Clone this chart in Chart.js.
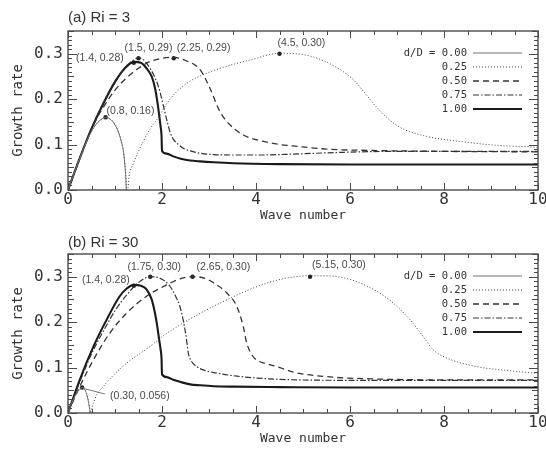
<!DOCTYPE html>
<html><head><meta charset="utf-8">
<script src="https://cdn.jsdelivr.net/npm/chart.js@4.4.0/dist/chart.umd.min.js"></script>
<style>
html,body{margin:0;padding:0;background:#fff;}
#wrap{width:546px;height:453px;position:relative;overflow:hidden;}
.box{position:absolute;left:0;width:546px;}
canvas{display:block;}
</style></head><body>
<div id="wrap">
<div class="box" style="top:0;height:226px"><canvas id="cA" width="546" height="226"></canvas></div>
<div class="box" style="top:226px;height:227px"><canvas id="cB" width="546" height="227"></canvas></div>
</div>
<script>
// ---------- data: panel (a) Ri = 3 ----------
const legendLabels = ['d/D = 0.00', '0.25', '0.50', '0.75', '1.00'];
const xTickStep = 2;
const yTickStep = 0.1;

const a_k000 = [0, 0.2, 0.4, 0.55, 0.7, 0.8, 0.9, 1.0, 1.07, 1.13, 1.18, 1.21, 1.23, 1.24];
const a_g000 = [0, 0.056, 0.108, 0.138, 0.155, 0.16, 0.156, 0.143, 0.128, 0.108, 0.085, 0.055, 0.025, 0];

const a_k025 = [0, 0.2, 0.4, 0.6, 0.8, 0.95, 1.05, 1.13, 1.19, 1.23, 1.25, 1.27, 1.3, 1.39, 1.5, 1.6, 1.75, 1.89, 2.17, 2.53, 2.95, 3.5, 3.87, 4.5, 5.0, 5.36, 5.79, 6.07, 6.28, 6.5, 6.78, 7.06, 7.63, 8.34, 9.05, 10];
const a_g025 = [0, 0.055, 0.107, 0.145, 0.157, 0.152, 0.135, 0.11, 0.075, 0.035, 0, 0, 0.03, 0.058, 0.085, 0.107, 0.135, 0.155, 0.2, 0.235, 0.257, 0.276, 0.286, 0.301, 0.298, 0.288, 0.265, 0.243, 0.218, 0.19, 0.16, 0.138, 0.118, 0.107, 0.099, 0.094];

const a_k050 = [0, 0.2, 0.4, 0.6, 0.8, 1.0, 1.25, 1.5, 1.75, 2.0, 2.25, 2.5, 2.81, 3.02, 3.23, 3.45, 3.73, 4.16, 4.51, 4.79, 5.5, 6.5, 8, 10];
const a_g050 = [0, 0.055, 0.11, 0.155, 0.19, 0.22, 0.247, 0.268, 0.283, 0.29, 0.292, 0.285, 0.265, 0.224, 0.173, 0.143, 0.121, 0.107, 0.1, 0.097, 0.09, 0.087, 0.085, 0.084];

const a_k075 = [0, 0.25, 0.5, 0.75, 1.0, 1.2, 1.4, 1.5, 1.6, 1.7, 1.82, 1.9, 1.96, 2.03, 2.1, 2.17, 2.24, 2.35, 2.45, 2.6, 2.81, 3.1, 3.52, 4.09, 4.79, 5.86, 7, 8.5, 10];
const a_g075 = [0, 0.07, 0.136, 0.192, 0.24, 0.268, 0.287, 0.291, 0.287, 0.275, 0.254, 0.235, 0.215, 0.185, 0.155, 0.128, 0.112, 0.1, 0.092, 0.086, 0.081, 0.078, 0.077, 0.077, 0.079, 0.083, 0.085, 0.085, 0.085];

const a_k100 = [0, 0.25, 0.5, 0.75, 1.0, 1.2, 1.4, 1.55, 1.67, 1.78, 1.85, 1.9, 1.94, 1.97, 1.99, 2.0, 2.1, 2.24, 2.4, 2.6, 2.81, 3.1, 3.52, 4.51, 6, 8, 10];
const a_g100 = [0, 0.07, 0.135, 0.19, 0.238, 0.267, 0.282, 0.28, 0.268, 0.25, 0.225, 0.195, 0.165, 0.14, 0.12, 0.086, 0.08, 0.074, 0.069, 0.065, 0.063, 0.061, 0.059, 0.057, 0.056, 0.056, 0.056];

const a_peakK = [1.4, 1.5, 2.25, 4.5, 0.8];
const a_peakG = [0.28, 0.29, 0.29, 0.30, 0.16];
const a_peakText = ['(1.4, 0.28)', '(1.5, 0.29)', '(2.25, 0.29)', '(4.5, 0.30)', '(0.8, 0.16)'];

// ---------- data: panel (b) Ri = 30 ----------
const b_k000 = [0, 0.1, 0.2, 0.3, 0.36, 0.41, 0.45, 0.47];
const b_g000 = [0, 0.027, 0.047, 0.056, 0.051, 0.036, 0.015, 0];

const b_k025 = [0, 0.1, 0.2, 0.3, 0.37, 0.42, 0.46, 0.48, 0.5, 0.54, 0.61, 0.75, 0.89, 1.25, 1.74, 2.03, 2.53, 3.16, 3.94, 4.51, 5.15, 5.5, 6.0, 6.57, 6.92, 7.28, 7.56, 7.77, 8.06, 8.7, 9.4, 10];
const b_g025 = [0, 0.026, 0.046, 0.054, 0.05, 0.035, 0.012, 0, 0.008, 0.021, 0.04, 0.058, 0.075, 0.11, 0.146, 0.17, 0.203, 0.238, 0.275, 0.294, 0.302, 0.302, 0.294, 0.268, 0.242, 0.205, 0.168, 0.139, 0.121, 0.102, 0.093, 0.087];

const b_k050 = [0, 0.25, 0.54, 0.89, 1.25, 1.67, 2.1, 2.4, 2.65, 2.9, 3.15, 3.38, 3.59, 3.73, 3.8, 3.9, 4.01, 4.25, 4.51, 4.79, 5.5, 6.5, 8, 10];
const b_g050 = [0, 0.058, 0.117, 0.176, 0.22, 0.257, 0.282, 0.296, 0.30, 0.297, 0.283, 0.264, 0.235, 0.19, 0.155, 0.13, 0.117, 0.108, 0.1, 0.09, 0.08, 0.075, 0.073, 0.073];

const b_k075 = [0, 0.25, 0.5, 0.75, 1.0, 1.25, 1.5, 1.75, 1.95, 2.17, 2.3, 2.38, 2.44, 2.49, 2.53, 2.56, 2.62, 2.74, 2.9, 3.16, 3.6, 4.51, 6, 8, 10];
const b_g075 = [0, 0.068, 0.13, 0.18, 0.225, 0.26, 0.287, 0.30, 0.297, 0.279, 0.255, 0.235, 0.21, 0.183, 0.155, 0.132, 0.115, 0.102, 0.094, 0.088, 0.081, 0.074, 0.072, 0.072, 0.072];

const b_k100 = [0, 0.25, 0.54, 0.82, 1.1, 1.25, 1.4, 1.55, 1.67, 1.78, 1.85, 1.9, 1.94, 1.97, 1.99, 2.0, 2.1, 2.24, 2.4, 2.6, 2.81, 3.1, 3.52, 4.51, 6, 8, 10];
const b_g100 = [0, 0.073, 0.146, 0.205, 0.257, 0.274, 0.282, 0.28, 0.272, 0.25, 0.22, 0.19, 0.161, 0.14, 0.12, 0.085, 0.079, 0.073, 0.068, 0.063, 0.061, 0.059, 0.058, 0.057, 0.056, 0.056, 0.056];

const b_peakK = [1.4, 1.75, 2.65, 5.15, 0.30];
const b_peakG = [0.28, 0.30, 0.30, 0.30, 0.056];
const b_peakText = ['(1.4, 0.28)', '(1.75, 0.30)', '(2.65, 0.30)', '(5.15, 0.30)', '(0.30, 0.056)'];

// ---------- styles (not data) ----------
const seriesStyles = [
  {color: '#707070', width: 1, dash: []},
  {color: '#444', width: 1, dash: [1, 2]},
  {color: '#333', width: 1.3, dash: [6, 4]},
  {color: '#333', width: 1.2, dash: [6, 2, 1.5, 2]},
  {color: '#1a1a1a', width: 2.1, dash: []}
];
// label placement relative to marker: [dx, dy, align, leader]
const a_labelPos = [[-10, -5, 'right'], [10, -10, 'center'], [3, -10, 'left'], [-2, -11, 'left'], [1, -6.5, 'left']];
const b_labelPos = [[-4, -6, 'right'], [4, -10, 'center'], [4, -10, 'left'], [2, -12, 'left'], [28, 8.5, 'left', true]];

const MONO = "'DejaVu Sans Mono', 'Liberation Mono', monospace";
const SANS = "'Liberation Sans', Arial, sans-serif";

const pts = (ks, gs) => ks.map((k, i) => ({x: k, y: gs[i]}));

const framePlugin = {
  id: 'frame',
  afterDatasetsDraw(chart) {
    const {ctx, chartArea: a, scales: {x, y}} = chart;
    ctx.save();
    ctx.strokeStyle = '#4a4a4a';
    ctx.lineWidth = 1;
    ctx.beginPath();
    for (let i = 0; i <= 20; i++) {
      const v = i * 0.5;
      const px = Math.round(x.getPixelForValue(v)) + 0.5;
      const len = (i % 4 === 0) ? 7 : 4;
      ctx.moveTo(px, a.bottom); ctx.lineTo(px, a.bottom - len);
      ctx.moveTo(px, a.top); ctx.lineTo(px, a.top + len);
    }
    for (let i = 0; i <= 35; i++) {
      const v = i * 0.01;
      const py = Math.round(y.getPixelForValue(v)) + 0.5;
      const len = (i % 10 === 0) ? 9 : (i % 5 === 0 ? 6 : 4);
      ctx.moveTo(a.left, py); ctx.lineTo(a.left + len, py);
      ctx.moveTo(a.right, py); ctx.lineTo(a.right - len, py);
    }
    ctx.stroke();
    ctx.lineWidth = 1.4;
    ctx.strokeRect(a.left, a.top, a.right - a.left, a.bottom - a.top);
    ctx.restore();
  }
};

const annotPlugin = {
  id: 'annot',
  afterDatasetsDraw(chart, args, opts) {
    const {ctx, scales: {x, y}} = chart;
    ctx.save();
    ctx.font = '10.5px ' + SANS;
    ctx.fillStyle = '#4a4a4a';
    ctx.textBaseline = 'middle';
    opts.k.forEach((k, i) => {
      const px = x.getPixelForValue(k), py = y.getPixelForValue(opts.g[i]);
      const [dx, dy, al, leader] = opts.pos[i];
      ctx.textAlign = al;
      ctx.fillText(opts.text[i], px + dx, py + dy);
      if (leader) {
        ctx.strokeStyle = '#555'; ctx.lineWidth = 0.8;
        ctx.beginPath(); ctx.moveTo(px + 2, py + 1); ctx.lineTo(px + dx - 5, py + dy - 2); ctx.stroke();
      }
    });
    // legend
    const a = chart.chartArea;
    ctx.font = '10.5px ' + MONO;
    ctx.textAlign = 'right';
    ctx.fillStyle = '#333';
    legendLabels.forEach((t, i) => {
      const st = seriesStyles[i];
      const yy = a.top + 22 + i * 14;
      ctx.fillText(t, a.left + 399, yy);
      ctx.strokeStyle = st.color; ctx.lineWidth = st.width; ctx.setLineDash(st.dash);
      ctx.beginPath(); ctx.moveTo(a.left + 405, yy); ctx.lineTo(a.left + 454, yy); ctx.stroke();
    });
    ctx.setLineDash([]);
    ctx.restore();
  }
};

function makeChart(id, title, series, peaksK, peaksG, peaksText, labelPos, padBottom, titlePad) {
  const datasets = series.map((s, i) => ({
    data: pts(s[0], s[1]),
    borderColor: seriesStyles[i].color,
    borderWidth: seriesStyles[i].width,
    borderDash: seriesStyles[i].dash,
    pointRadius: 0,
    fill: false,
    cubicInterpolationMode: 'monotone'
  }));
  datasets.push({
    data: pts(peaksK, peaksG),
    showLine: false,
    pointRadius: 2.2,
    pointBackgroundColor: '#222',
    pointBorderWidth: 0
  });
  return new Chart(document.getElementById(id), {
    type: 'line',
    data: {datasets},
    plugins: [framePlugin, annotPlugin],
    options: {
      animation: false,
      responsive: false,
      layout: {padding: {left: 0, right: 8, top: 0, bottom: padBottom}},
      plugins: {
        legend: {display: false},
        tooltip: {enabled: false},
        title: {display: true, text: title, align: 'start', fullSize: false,
          font: {family: SANS, size: 15, weight: 'normal'}, color: '#333', padding: titlePad},
        annot: {k: peaksK, g: peaksG, text: peaksText, pos: labelPos}
      },
      scales: {
        x: {
          type: 'linear', min: 0, max: 10,
          ticks: {stepSize: xTickStep, padding: 0, maxRotation: 0, autoSkip: false,
            font: {family: MONO, size: 16}, color: '#333'},
          grid: {display: false, drawTicks: false},
          border: {display: false},
          title: {display: true, text: 'Wave number', font: {family: MONO, size: 13}, color: '#333',
            padding: {top: 0, bottom: 3}},
          afterFit(s) { s.height = 36; s.paddingLeft = 0; s.paddingRight = 0; }
        },
        y: {
          type: 'linear', min: 0, max: 0.35,
          ticks: {stepSize: yTickStep, includeBounds: false, padding: 5,
            callback: v => Number(v).toFixed(1),
            font: {family: MONO, size: 16}, color: '#333'},
          grid: {display: false, drawTicks: false},
          border: {display: false},
          title: {display: true, text: 'Growth rate', font: {family: MONO, size: 14}, color: '#333',
            padding: {top: 10, bottom: 0}},
          afterFit(s) { s.width = 68; }
        }
      }
    }
  });
}

makeChart('cA', '(a) Ri = 3',
  [[a_k000, a_g000], [a_k025, a_g025], [a_k050, a_g050], [a_k075, a_g075], [a_k100, a_g100]],
  a_peakK, a_peakG, a_peakText, a_labelPos, 0, {top: 9, bottom: 4});
makeChart('cB', '(b) Ri = 30',
  [[b_k000, b_g000], [b_k025, b_g025], [b_k050, b_g050], [b_k075, b_g075], [b_k100, b_g100]],
  b_peakK, b_peakG, b_peakText, b_labelPos, 4, {top: 8, bottom: 2});
</script>
</body></html>
